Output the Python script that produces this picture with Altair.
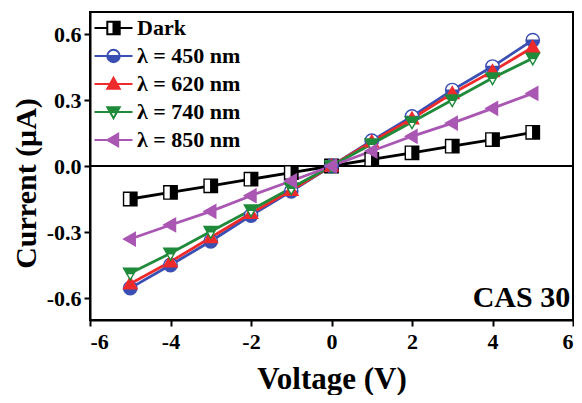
import math
import altair as alt
import pandas as pd

# ---- data ----
voltage = [-5, -4, -3, -2, -1, 0, 1, 2, 3, 4, 5]
dark = [-0.15, -0.12, -0.09, -0.06, -0.03, 0, 0.03, 0.06, 0.09, 0.12, 0.153]
nm450 = [-0.555, -0.45, -0.342, -0.225, -0.115, 0, 0.115, 0.225, 0.345, 0.452, 0.572]
nm620 = [-0.535, -0.435, -0.325, -0.215, -0.11, 0, 0.11, 0.215, 0.33, 0.43, 0.54]
nm740 = [-0.487, -0.397, -0.298, -0.2, -0.1, 0, 0.1, 0.2, 0.3, 0.4, 0.49]
nm850 = [-0.332, -0.268, -0.206, -0.135, -0.068, 0, 0.068, 0.135, 0.195, 0.262, 0.33]

series_names = ["Dark", "λ = 450 nm", "λ = 620 nm", "λ = 740 nm", "λ = 850 nm"]
series_values = [dark, nm450, nm620, nm740, nm850]
series_colors = ["#000000", "#3a4fb4", "#ee2a2a", "#1f8a3a", "#a957b3"]
series_kinds = ["square_right", "circle_bottom", "triup_full", "tridown_top", "trileft_full"]

rows = []
for name, vals in zip(series_names, series_values):
    for v, c in zip(voltage, vals):
        rows.append({"series": name, "V": v, "I": c})
df = pd.DataFrame(rows)


def f(v):
    return f"{v:.3f}".rstrip("0").rstrip(".") if abs(v) > 1e-9 else "0"


def marker_path(kind, r, step, cx=0.0, line=None):
    """Marker outline plus dense stroke hatching for the filled part.
    line=(x0, x1) adds a horizontal line segment (legend symbols)."""
    p = []
    X = lambda v: f(v + cx)
    if kind == "square_right":
        p.append(f"M{X(-r)},{f(-r)}H{X(r)}V{f(r)}H{X(-r)}Z")
        x = 0.0
        while x <= r + 1e-9:
            p.append(f"M{X(x)},{f(-r)}V{f(r)}")
            x += step
        if line:
            p.append(f"M{f(line[0])},0H{X(-r)}M{X(r)},0H{f(line[1])}")
    elif kind == "circle_bottom":
        p.append(f"M{X(-r)},0A{f(r)},{f(r)} 0 1,1 {X(r)},0A{f(r)},{f(r)} 0 1,1 {X(-r)},0Z")
        y = 0.0
        while y <= r + 1e-9:
            h = math.sqrt(max(r * r - y * y, 0))
            p.append(f"M{X(-h)},{f(y)}H{X(h)}")
            y += step
        if line:
            p.append(f"M{f(line[0])},0H{X(-r)}M{X(r)},0H{f(line[1])}")
    elif kind == "triup_full":
        b = 0.75 * r
        p.append(f"M{X(0)},{f(-r)}L{X(r)},{f(b)}L{X(-r)},{f(b)}Z")
        y = -r
        while y <= b + 1e-9:
            h = r * (y + r) / (r + b)
            p.append(f"M{X(-h)},{f(y)}H{X(h)}")
            y += step
        if line:
            p.append(f"M{f(line[0])},0H{f(line[1])}")
    elif kind == "tridown_top":
        t = -0.75 * r
        p.append(f"M{X(0)},{f(r)}L{X(r)},{f(t)}L{X(-r)},{f(t)}Z")
        y = t
        while y <= 0.05 * r + 1e-9:
            h = r * (r - y) / (r - t)
            p.append(f"M{X(-h)},{f(y)}H{X(h)}")
            y += step
        if line:
            p.append(f"M{f(line[0])},0H{f(line[1])}")
    elif kind == "trileft_full":
        b = 0.75 * r
        p.append(f"M{X(-r)},0L{X(b)},{f(-r)}L{X(b)},{f(r)}Z")
        x = -r
        while x <= b + 1e-9:
            h = r * (x + r) / (r + b)
            p.append(f"M{X(x)},{f(-h)}V{f(h)}")
            x += step
        if line:
            p.append(f"M{f(line[0])},0H{f(line[1])}")
    return "".join(p)


# data markers: unit box [-1,1] scaled to marker size
data_paths = [marker_path(k, 1.0, 0.16) for k in series_kinds]
# legend symbols (1 unit = 10 px at symbolSize 400): line segment with marker
legend_paths = [marker_path(k, 0.62, 0.12, cx=0.75, line=(-1.15, 2.65)) for k in series_kinds]

SERIF = "Liberation Serif"

x_enc = alt.X("V:Q", scale=alt.Scale(domain=[-6, 6], nice=False), title="Voltage (V)",
              axis=alt.Axis(values=[-6, -4, -2, 0, 2, 4, 6],
                            labelExpr="replace(format(datum.value, 'd'), '\u2212', '-')"))
y_enc = alt.Y("I:Q", scale=alt.Scale(domain=[-0.7, 0.7], nice=False), title="Current (μA)",
              axis=alt.Axis(values=[-0.6, -0.3, 0, 0.3, 0.6],
                            labelExpr="replace(format(datum.value, '.1f'), '\u2212', '-')"))

color_scale = alt.Scale(domain=series_names, range=series_colors)

base = alt.Chart(df)

leg = alt.Legend(
    title=None, orient="top-left", offset=5, padding=0,
    labelFont=SERIF, labelFontWeight="bold", labelFontSize=22, labelColor="black",
    symbolSize=400, symbolStrokeWidth=2, labelOffset=20, rowPadding=6,
)

# invisible layer that only carries the legend (line + marker symbols)
legend_layer = base.mark_point(opacity=0, filled=False, strokeWidth=2).encode(
    x=x_enc, y=y_enc,
    color=alt.Color("series:N", scale=color_scale, legend=leg),
    shape=alt.Shape("series:N", scale=alt.Scale(domain=series_names, range=legend_paths), legend=leg),
)

zero_rule = alt.Chart(df).mark_rule(color="black", strokeWidth=1.5).encode(y=alt.datum(0))

lines = base.mark_line(strokeWidth=2.8).encode(
    x="V:Q", y="I:Q",
    color=alt.Color("series:N", scale=color_scale, legend=None),
    detail="series:N",
)

marker_layers = []
for name, path, col in zip(series_names, data_paths, series_colors):
    marker_layers.append(
        alt.Chart(df[df["series"] == name]).mark_point(
            shape=path, size=180, filled=True, fill="white", stroke=col,
            strokeWidth=1.4, opacity=1,
        ).encode(x="V:Q", y="I:Q")
    )

label = alt.Chart(pd.DataFrame({"t": ["CAS 30"]})).mark_text(
    align="right", baseline="middle", font=SERIF, fontWeight="bold", fontSize=30, color="black"
).encode(x=alt.datum(5.93), y=alt.datum(-0.6), text="t:N")

chart = alt.layer(legend_layer, zero_rule, lines, *marker_layers, label).properties(
    width=483, height=308,
    autosize=alt.AutoSizeParams(type="none"),
    padding={"left": 82, "top": 4, "right": 1, "bottom": 75},
).configure_view(stroke="black", strokeWidth=2).configure_axis(
    grid=False, domainColor="black", domainWidth=2, tickColor="black", tickWidth=2, tickSize=6,
    labelFont=SERIF, labelFontWeight="bold", labelFontSize=22, labelColor="black",
    titleFont=SERIF, titleFontWeight="bold", titleFontSize=31, titleColor="black",
).configure_axisX(labelPadding=5, titleY=68, titleBaseline="alphabetic").configure_axisY(
    labelPadding=3, titleX=-55, titleY=171, titleBaseline="alphabetic", titleAngle=270,
    titleFontSize=30,
)

chart.save("out.html", embed_options={"renderer": "svg", "actions": False})
